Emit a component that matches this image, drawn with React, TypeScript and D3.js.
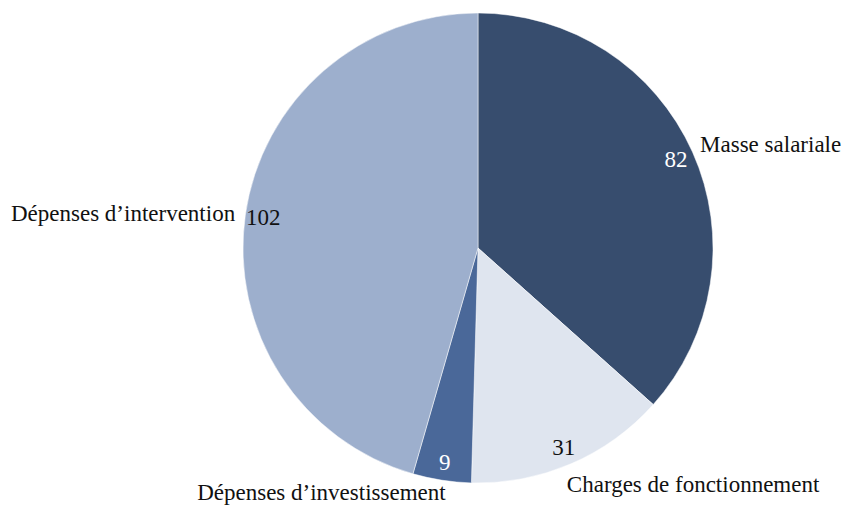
import React from "react";
import * as d3 from "d3";

const categories = [
  "Masse salariale",
  "Charges de fonctionnement",
  "Dépenses d’investissement",
  "Dépenses d’intervention",
];
const values = [82, 31, 9, 102];
const colors = ["#374d6e", "#dfe5ef", "#4a6899", "#9dafcd"];
const valueColors = ["#ffffff", "#111111", "#ffffff", "#111111"];
// label layout: anchor and offset relative to value label
const catAnchor = ["start", "start", "end", "end"];
const catOffset: [number, number][] = [
  [24, -15],
  [3, 37],
  [1, 30],
  [-28, -4],
];

const W = 856;
const H = 523;
const cx = 478;
const cy = 248;
const R = 235;
const FONT = "'Liberation Serif', 'Times New Roman', serif";

export default function App() {
  const data = categories.map((c, i) => ({ c, v: values[i], i }));
  const pie = d3
    .pie<any>()
    .sort(null)
    .value((d) => d.v);
  const arcs = pie(data);
  const arc = d3.arc<any>().innerRadius(0).outerRadius(R);
  const labelArc = d3.arc<any>().innerRadius(217).outerRadius(217);

  return (
    <svg
      width={W}
      height={H}
      style={{ position: "absolute", left: 0, top: 0, background: "#fff" }}
    >
      <g transform={`translate(${cx},${cy})`}>
        {arcs.map((a, i) => (
          <path
            key={i}
            d={arc(a) as string}
            fill={colors[i]}
            stroke="#fff"
            strokeWidth={0.5}
          />
        ))}
        {arcs.map((a, i) => {
          const [x, y] = labelArc.centroid(a);
          return (
            <g key={"l" + i}>
              <text
                x={x}
                y={y}
                textAnchor="middle"
                dominantBaseline="central"
                fontFamily={FONT}
                fontSize={23}
                fill={valueColors[i]}
              >
                {values[i]}
              </text>
              <text
                x={x + catOffset[i][0]}
                y={y + catOffset[i][1]}
                textAnchor={catAnchor[i] as any}
                dominantBaseline="central"
                fontFamily={FONT}
                fontSize={23}
                fill="#111"
              >
                {categories[i]}
              </text>
            </g>
          );
        })}
      </g>
    </svg>
  );
}
